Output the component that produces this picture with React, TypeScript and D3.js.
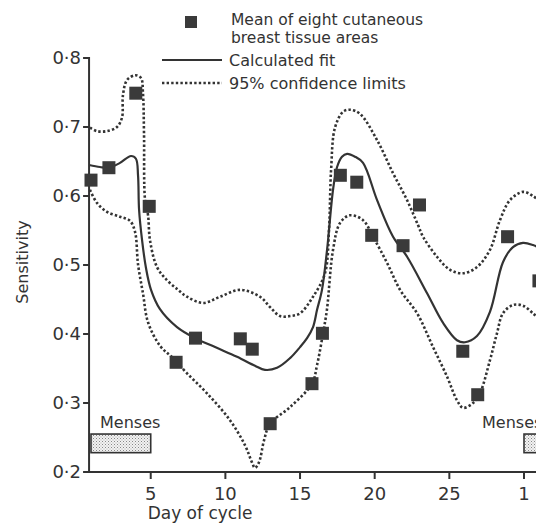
import React from 'react';
import * as d3 from 'd3';

const W = 536;
const H = 524;

// Mean of eight cutaneous breast tissue areas
const pointDays = [1, 2.2, 4, 4.9, 6.7, 8, 11, 11.8, 13, 15.8, 16.5, 17.7, 18.8, 19.8, 21.9, 23, 25.9, 26.9, 28.9, 31];
const pointValues = [0.623, 0.641, 0.749, 0.585, 0.359, 0.394, 0.393, 0.378, 0.27, 0.328, 0.401, 0.63, 0.62, 0.543, 0.528, 0.587, 0.375, 0.312, 0.541, 0.477];

// Calculated fit (traced)
const fitDays = [0.87, 1.6, 2.21, 2.94, 3.68, 4.01, 4.15, 4.22, 4.42, 4.68, 5.02, 5.62, 6.76, 7.97, 9.31, 10.78, 11.98, 12.65, 13.46, 14.33, 15.0, 15.47, 15.87, 16.14, 16.47, 16.81, 17.21, 17.48, 17.81, 18.15, 18.68, 19.22, 20.16, 21.23, 22.17, 23.51, 24.58, 25.51, 26.05, 26.85, 27.72, 28.59, 29.26, 29.93, 30.6, 31.2];
const fitValues = [0.645, 0.642, 0.641, 0.648, 0.658, 0.654, 0.63, 0.58, 0.536, 0.496, 0.464, 0.436, 0.41, 0.394, 0.381, 0.367, 0.354, 0.348, 0.351, 0.365, 0.381, 0.394, 0.41, 0.435, 0.464, 0.522, 0.609, 0.642, 0.657, 0.661, 0.657, 0.648, 0.594, 0.541, 0.512, 0.459, 0.416, 0.391, 0.388, 0.397, 0.432, 0.504, 0.526, 0.532, 0.529, 0.523];

// 95% confidence limits, upper (traced)
const upperDays = [0.93, 1.4, 2.07, 2.74, 3.08, 3.14, 3.41, 3.95, 4.35, 4.48, 4.55, 4.62, 4.82, 4.95, 5.42, 6.09, 6.83, 7.43, 8.5, 9.64, 10.98, 12.32, 12.99, 13.66, 14.33, 15.0, 15.87, 16.67, 16.94, 17.08, 17.34, 17.88, 18.35, 19.02, 20.16, 21.23, 22.17, 22.9, 23.24, 24.17, 25.05, 25.92, 26.85, 27.72, 28.39, 29.06, 29.94, 30.6, 31.2];
const upperValues = [0.699, 0.694, 0.694, 0.7, 0.714, 0.746, 0.768, 0.775, 0.771, 0.749, 0.691, 0.594, 0.572, 0.536, 0.497, 0.478, 0.464, 0.454, 0.445, 0.454, 0.464, 0.454, 0.439, 0.426, 0.426, 0.43, 0.454, 0.488, 0.551, 0.638, 0.699, 0.722, 0.725, 0.719, 0.681, 0.633, 0.594, 0.558, 0.541, 0.512, 0.493, 0.488, 0.497, 0.522, 0.565, 0.594, 0.606, 0.6, 0.59];

// 95% confidence limits, lower (traced)
const lowerDays = [0.93, 1.4, 2.07, 2.94, 3.61, 3.95, 4.15, 4.48, 4.82, 5.62, 6.49, 7.43, 8.77, 10.31, 11.31, 11.78, 11.98, 12.25, 12.59, 12.99, 14.33, 15.8, 16.14, 16.54, 16.8, 17.21, 17.68, 18.35, 19.22, 19.89, 20.83, 21.7, 22.84, 23.91, 24.85, 25.51, 25.92, 26.59, 27.05, 27.72, 28.19, 28.59, 29.26, 29.93, 30.6, 31.2];
const lowerValues = [0.609, 0.59, 0.577, 0.57, 0.564, 0.548, 0.501, 0.459, 0.417, 0.383, 0.365, 0.343, 0.314, 0.275, 0.239, 0.214, 0.206, 0.214, 0.246, 0.27, 0.294, 0.328, 0.355, 0.401, 0.435, 0.522, 0.561, 0.572, 0.565, 0.541, 0.503, 0.464, 0.43, 0.381, 0.338, 0.304, 0.293, 0.3, 0.314, 0.362, 0.401, 0.43, 0.442, 0.441, 0.43, 0.417];

const xTickDays = [5, 10, 15, 20, 25, 30];
const xTickLabels = ['5', '10', '15', '20', '25', '1'];
const yTickValues = [0.2, 0.3, 0.4, 0.5, 0.6, 0.7, 0.8];
const yTickLabels = ['0·2', '0·3', '0·4', '0·5', '0·6', '0·7', '0·8'];

const mensesStart = [1, 30];
const mensesEnd = [5, 35];
const mensesLabel = 'Menses';

const legendMean = ['Mean of eight cutaneous', 'breast tissue areas'];
const legendFit = 'Calculated fit';
const legendCI = '95% confidence limits';
const xTitle = 'Day of cycle';
const yTitle = 'Sensitivity';

const INK = '#333';
const FONT = '"DejaVu Sans", sans-serif';

export default function App() {
  const x = d3.scaleLinear().domain([1, 30]).range([91, 524]);
  const y = d3.scaleLinear().domain([0.2, 0.8]).range([472, 58]);

  const line = d3
    .line<[number, number]>()
    .x((d) => x(d[0]))
    .y((d) => y(d[1]))
    .curve(d3.curveCatmullRom.alpha(0.5));

  const zip = (a: number[], b: number[]) => a.map((v, i) => [v, b[i]] as [number, number]);

  const axisX = x(0.87);
  const axisY = y(0.2);
  const sq = 13;

  return (
    <svg
      width={W}
      height={H}
      style={{ position: 'absolute', left: 0, top: 0, background: '#fff' }}
      fontFamily={FONT}
    >
      <defs>
        <pattern id="stip" width="3" height="3" patternUnits="userSpaceOnUse">
          <rect width="3" height="3" fill="#f2f2f2" />
          <rect x="0" y="0" width="1" height="1" fill="#888" />
          <rect x="1.5" y="1.5" width="1" height="1" fill="#aaa" />
        </pattern>
      </defs>

      {/* Menses bars */}
      {mensesStart.map((s, i) => (
        <g key={'m' + i}>
          <rect
            x={x(s)}
            y={y(0.255)}
            width={x(mensesEnd[i]) - x(s)}
            height={y(0.228) - y(0.255)}
            fill="url(#stip)"
            stroke={INK}
            strokeWidth={1.6}
          />
          <text x={i === 0 ? x(s) + 9 : x(s) - 42} y={428} fontSize={16} fill={INK}>
            {mensesLabel}
          </text>
        </g>
      ))}

      {/* Axes */}
      <line x1={axisX} x2={axisX} y1={y(0.8) - 1} y2={axisY + 1} stroke={INK} strokeWidth={2} />
      <line x1={axisX - 1} x2={W + 5} y1={axisY} y2={axisY} stroke={INK} strokeWidth={2} />
      {yTickValues.map((v, i) => (
        <g key={'yt' + i}>
          <line x1={axisX - 6} x2={axisX} y1={y(v)} y2={y(v)} stroke={INK} strokeWidth={2} />
          <text x={axisX - 8} y={y(v)} dy="0.36em" textAnchor="end" fontSize={18} fill={INK}>
            {yTickLabels[i]}
          </text>
        </g>
      ))}
      {xTickDays.map((d, i) => (
        <g key={'xt' + i}>
          <line x1={x(d)} x2={x(d)} y1={axisY} y2={axisY + 7} stroke={INK} strokeWidth={2} />
          <text x={x(d)} y={500} textAnchor="middle" fontSize={18} fill={INK}>
            {xTickLabels[i]}
          </text>
        </g>
      ))}
      <text x={200} y={519} textAnchor="middle" fontSize={17} fill={INK}>
        {xTitle}
      </text>
      <text
        transform={`translate(28, 262) rotate(-90)`}
        textAnchor="middle"
        fontSize={16}
        fill={INK}
      >
        {yTitle}
      </text>

      {/* Curves */}
      <path d={line(zip(upperDays, upperValues)) || ''} fill="none" stroke={INK} strokeWidth={2.6} strokeDasharray="2.4 2.2" />
      <path d={line(zip(lowerDays, lowerValues)) || ''} fill="none" stroke={INK} strokeWidth={2.6} strokeDasharray="2.4 2.2" />
      <path d={line(zip(fitDays, fitValues)) || ''} fill="none" stroke={INK} strokeWidth={2.2} />

      {/* Points */}
      {pointDays.map((d, i) => (
        <rect
          key={'p' + i}
          x={x(d) - sq / 2}
          y={y(pointValues[i]) - sq / 2}
          width={sq}
          height={sq}
          fill="#3a3a3a"
        />
      ))}

      {/* Legend */}
      <rect x={185} y={16} width={12} height={12} fill="#3a3a3a" />
      <text x={231} y={25} fontSize={15.5} fill={INK}>{legendMean[0]}</text>
      <text x={231} y={43} fontSize={15.5} fill={INK}>{legendMean[1]}</text>
      <line x1={162} x2={222} y1={60} y2={60} stroke={INK} strokeWidth={2.2} />
      <text x={229} y={66} fontSize={16} fill={INK}>{legendFit}</text>
      <line x1={162} x2={222} y1={83} y2={83} stroke={INK} strokeWidth={2.6} strokeDasharray="2.4 2.2" />
      <text x={229} y={89} fontSize={16} fill={INK}>{legendCI}</text>
    </svg>
  );
}
